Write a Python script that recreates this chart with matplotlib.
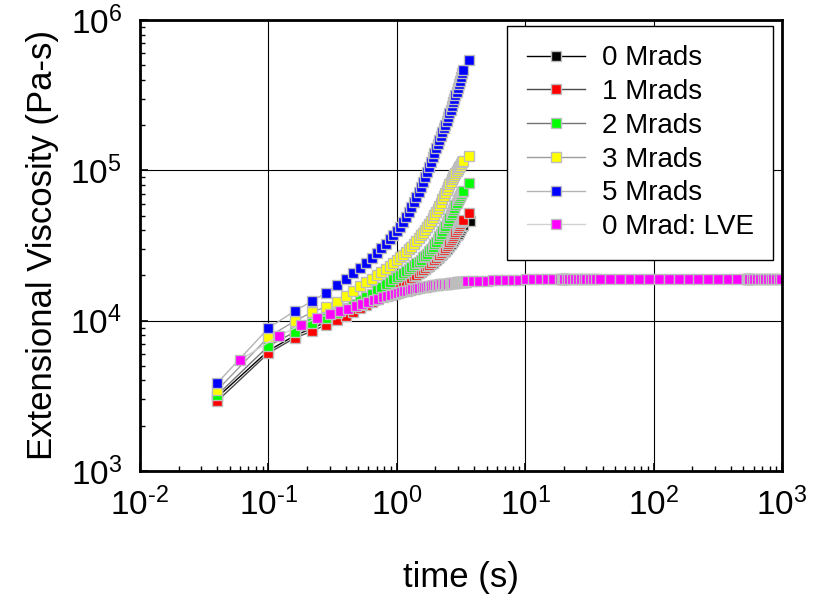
import matplotlib
matplotlib.use("Agg")
import matplotlib.pyplot as plt
import numpy as np
from matplotlib.ticker import FuncFormatter, LogLocator, NullFormatter

plt.rcParams["font.family"] = ["Liberation Sans", "DejaVu Sans"]
plt.rcParams["mathtext.default"] = "regular"

# time grid of the extensional runs (s)
time_ext = [
    0.04, 0.10, 0.16, 0.22, 0.28, 0.34, 0.40, 0.46, 0.52, 0.58,
    0.64, 0.70, 0.76, 0.82, 0.88, 0.94, 1.00, 1.06, 1.12, 1.18,
    1.24, 1.30, 1.36, 1.42, 1.48, 1.54, 1.60, 1.66, 1.72, 1.78,
    1.84, 1.90, 1.96, 2.02, 2.08, 2.14, 2.20, 2.26, 2.32, 2.38,
    2.44, 2.50, 2.56, 2.62, 2.68, 2.74, 2.80, 2.86, 2.92, 2.98,
    3.04, 3.10, 3.16, 3.22, 3.28, 3.64,
]
time_black = time_ext[:-1] + [3.70]

# log10 of extensional viscosity (Pa-s)
log_eta_0 = [
    3.490, 3.800, 3.900, 3.950, 3.990, 4.022, 4.050, 4.075, 4.098, 4.119,
    4.138, 4.156, 4.173, 4.189, 4.204, 4.218, 4.231, 4.243, 4.254, 4.265,
    4.275, 4.285, 4.295, 4.305, 4.315, 4.325, 4.335, 4.345, 4.355, 4.365,
    4.375, 4.385, 4.395, 4.405, 4.415, 4.425, 4.435, 4.445, 4.455, 4.466,
    4.477, 4.488, 4.499, 4.510, 4.521, 4.532, 4.543, 4.555, 4.567, 4.579,
    4.591, 4.603, 4.615, 4.627, 4.638, 4.663,
]
log_eta_1 = [
    3.465, 3.784, 3.884, 3.931, 3.971, 4.005, 4.034, 4.060, 4.084, 4.106,
    4.126, 4.145, 4.163, 4.180, 4.196, 4.211, 4.225, 4.238, 4.250, 4.262,
    4.273, 4.284, 4.295, 4.306, 4.317, 4.328, 4.339, 4.350, 4.361, 4.372,
    4.383, 4.394, 4.405, 4.416, 4.427, 4.438, 4.449, 4.461, 4.473, 4.485,
    4.497, 4.509, 4.521, 4.534, 4.547, 4.560, 4.573, 4.587, 4.601, 4.615,
    4.629, 4.642, 4.654, 4.663, 4.669, 4.716,
]
log_eta_2 = [
    3.505, 3.831, 3.924, 3.984, 4.017, 4.050, 4.084, 4.112, 4.136, 4.157,
    4.180, 4.202, 4.222, 4.242, 4.259, 4.274, 4.288, 4.303, 4.318, 4.332,
    4.345, 4.357, 4.369, 4.381, 4.393, 4.406, 4.420, 4.433, 4.446, 4.460,
    4.474, 4.490, 4.507, 4.524, 4.542, 4.560, 4.578, 4.596, 4.614, 4.632,
    4.649, 4.666, 4.683, 4.700, 4.717, 4.734, 4.751, 4.768, 4.785, 4.801,
    4.816, 4.830, 4.843, 4.853, 4.862, 4.915,
]
log_eta_3 = [
    3.538, 3.891, 3.997, 4.057, 4.092, 4.126, 4.165, 4.200, 4.230, 4.257,
    4.280, 4.302, 4.323, 4.343, 4.363, 4.383, 4.402, 4.420, 4.438, 4.456,
    4.474, 4.492, 4.510, 4.529, 4.548, 4.567, 4.586, 4.605, 4.624, 4.644,
    4.664, 4.684, 4.704, 4.724, 4.744, 4.764, 4.785, 4.806, 4.827, 4.848,
    4.868, 4.888, 4.907, 4.925, 4.942, 4.958, 4.972, 4.985, 4.997, 5.008,
    5.019, 5.030, 5.041, 5.052, 5.062, 5.095,
]
log_eta_5 = [
    3.585, 3.950, 4.064, 4.130, 4.185, 4.237, 4.280, 4.318, 4.352, 4.385,
    4.418, 4.450, 4.481, 4.511, 4.540, 4.568, 4.596, 4.624, 4.655, 4.687,
    4.720, 4.754, 4.788, 4.822, 4.856, 4.890, 4.924, 4.958, 4.991, 5.024,
    5.056, 5.088, 5.118, 5.147, 5.175, 5.202, 5.228, 5.254, 5.279, 5.304,
    5.329, 5.354, 5.379, 5.404, 5.428, 5.452, 5.476, 5.500, 5.524, 5.548,
    5.572, 5.596, 5.620, 5.645, 5.670, 5.734,
]

# linear viscoelastic envelope
time_lve = [
    0.06, 0.12, 0.18, 0.24, 0.30, 0.36, 0.42, 0.48, 0.54, 0.60,
    0.66, 0.72, 0.78, 0.84, 0.90, 0.96, 1.02, 1.08, 1.14, 1.20,
    1.26, 1.32, 1.38, 1.44, 1.50, 1.56, 1.62, 1.68, 1.74, 1.80,
    1.86, 1.92, 1.98, 2.04, 2.10, 2.16, 2.22, 2.28, 2.34, 2.40,
    2.46, 2.52, 2.58, 2.64, 2.70, 2.76, 2.82, 2.88, 2.94, 3.00,
    3.06, 3.12, 3.18, 3.24, 3.30, 3.36, 3.42, 3.48, 3.54,
    3.9, 4.4, 5.0, 5.6, 6.3, 7.1, 8.0, 9.0, 10.2, 11.5,
    13.0, 14.7, 16.6, 18.7,
    19.2, 19.4, 19.6, 19.8, 20.0, 20.2,
    21.0, 22.0, 23.2, 24.4, 25.7, 27.0, 28.5, 30.0, 31.7, 33.5, 35.4,
    38.3, 45.8, 54.5, 65.0, 77.5, 92.4, 110, 131, 157, 187,
    223, 265, 316, 377, 449,
    530, 535, 540, 545, 550, 555,
    580, 610, 640, 672, 705, 740, 778, 817, 858, 900, 945, 990,
]
log_eta_lve = [
    3.738, 3.898, 3.972, 4.017, 4.044, 4.062, 4.080, 4.097, 4.112, 4.125,
    4.137, 4.147, 4.156, 4.164, 4.172, 4.179, 4.185, 4.190, 4.195, 4.200,
    4.204, 4.208, 4.212, 4.215, 4.218, 4.221, 4.224, 4.226, 4.228, 4.230,
    4.232, 4.234, 4.236, 4.238, 4.239, 4.241, 4.242, 4.243, 4.244, 4.245,
    4.246, 4.247, 4.248, 4.249, 4.250, 4.251, 4.252, 4.253, 4.254, 4.255,
    4.256, 4.257, 4.257, 4.258, 4.259, 4.259, 4.260, 4.260, 4.261,
    4.262, 4.264, 4.266, 4.268, 4.270, 4.271, 4.272, 4.273, 4.274, 4.275,
    4.276, 4.276, 4.277, 4.277,
    4.277, 4.277, 4.277, 4.277, 4.277, 4.277,
    4.277, 4.277, 4.277, 4.277, 4.277, 4.277, 4.277, 4.277, 4.277, 4.277, 4.277,
    4.277, 4.277, 4.277, 4.277, 4.277, 4.277, 4.277, 4.277, 4.277, 4.277,
    4.277, 4.277, 4.277, 4.277, 4.277,
    4.277, 4.277, 4.277, 4.277, 4.277, 4.277,
    4.277, 4.277, 4.277, 4.277, 4.277, 4.277, 4.277, 4.277, 4.277, 4.277, 4.277, 4.277,
]

# label, time, log10(eta), marker face, line colour
SERIES = [
    ("0 Mrads", time_black, log_eta_0, "#000000", "#000000"),
    ("1 Mrads", time_ext, log_eta_1, "#ff0000", "#4a4a4a"),
    ("2 Mrads", time_ext, log_eta_2, "#00ff00", "#747474"),
    ("3 Mrads", time_ext, log_eta_3, "#ffff00", "#9c9c9c"),
    ("5 Mrads", time_ext, log_eta_5, "#0000ff", "#b4b4b4"),
    ("0 Mrad: LVE", time_lve, log_eta_lve, "#ff00ff", "#d2d2d2"),
]


def pow10(v, pos):
    # hyphen rather than a long minus, as in the original
    exp = int(round(np.log10(v)))
    sign = "\u2010" if exp < 0 else ""
    return r"$10^{%s%d}$" % (sign, abs(exp))


fig = plt.figure(figsize=(8.21, 5.99), dpi=100)
ax = fig.add_axes([0.1705, 0.2137, 0.782, 0.753])

for label, t, logv, face, line in SERIES:
    ax.plot(
        t,
        10 ** np.array(logv),
        color=line,
        linewidth=1.0,
        marker="s",
        markersize=6.5,
        markerfacecolor=face,
        markeredgecolor="#bdbdbd",
        markeredgewidth=1.0,
        label=label,
    )

ax.set_xscale("log")
ax.set_yscale("log")
ax.set_xlim(1e-2, 1e3)
ax.set_ylim(1e3, 1e6)

ax.xaxis.set_major_locator(LogLocator(base=10, numticks=10))
ax.yaxis.set_major_locator(LogLocator(base=10, numticks=10))
ax.xaxis.set_major_formatter(FuncFormatter(pow10))
ax.yaxis.set_major_formatter(FuncFormatter(pow10))
ax.xaxis.set_minor_formatter(NullFormatter())
ax.yaxis.set_minor_formatter(NullFormatter())

ax.grid(True, which="major", color="black", linewidth=0.8)
ax.tick_params(which="both", direction="in", labelsize=24, top=False, right=False)
ax.tick_params(which="major", length=6, width=1.2)
ax.tick_params(axis="x", which="major", pad=12)
ax.tick_params(axis="y", which="major", pad=13)
ax.tick_params(which="minor", length=3.5, width=1.0)
for side in ax.spines.values():
    side.set_linewidth(2.0)

ax.set_xlabel("time (s)", fontsize=25, labelpad=28)
ax.set_ylabel("Extensional Viscosity (Pa-s)", fontsize=25, labelpad=8)

leg = ax.legend(
    loc="upper right",
    bbox_to_anchor=(0.986, 0.987),
    borderaxespad=0,
    fontsize=20,
    numpoints=1,
    handlelength=2.1,
    handletextpad=0.6,
    labelspacing=0.28,
    borderpad=0.7,
    fancybox=False,
    framealpha=1,
    edgecolor="black",
)
leg.get_frame().set_linewidth(1.0)

fig.savefig("out.png", dpi=100)
